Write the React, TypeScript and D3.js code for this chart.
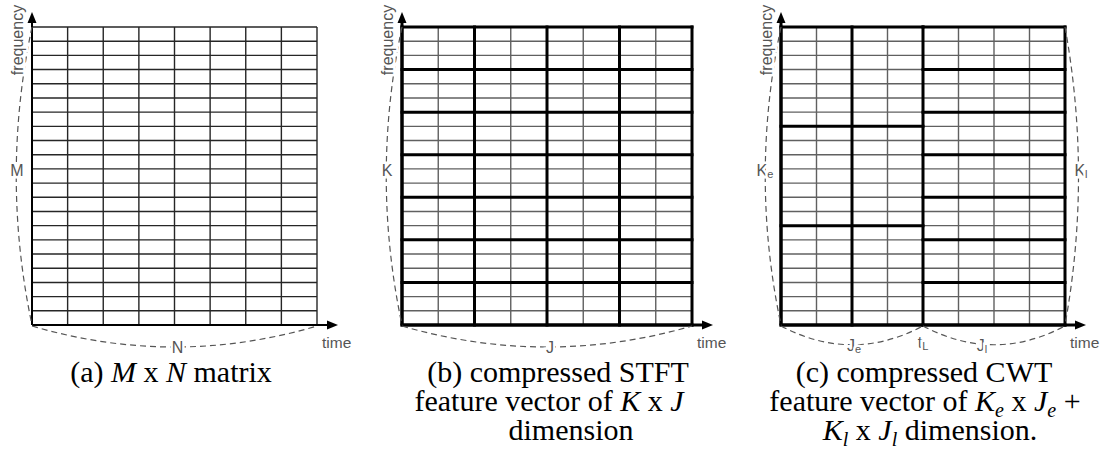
import React from "react";
import * as d3 from "d3";

// grid shape shared by the three panels
const rowCount = 21;
const colCount = 8;

// (b) STFT compression: thick line every n rows / cols
const stftRowStep = 3;
const stftColStep = 2;

// (c) CWT compression: early part (before tL) and late part
const cwtSplitCol = 4;
const cwtEarlyRowBreaks = [0, 7, 14, 21];
const cwtEarlyColBreaks = [0, 2, 4];
const cwtLateRowStep = 3;

// text
const yAxisName = "frequency";
const xAxisName = "time";
const sideLabels = ["M", "K", "K"];
const bottomLabels = ["N", "J"];
const captionA = ["(a) ", "M", " x ", "N", "  matrix"];

// layout
const W = 1102;
const H = 458;
const gridTop = 27;
const gridBottom = 325;
const panelX: [number, number][] = [
  [32, 317],
  [402, 692],
  [781, 1065],
];

const labelFont = "'Liberation Sans', Arial, sans-serif";
const capFont = "'Liberation Serif', 'Times New Roman', serif";
const labelColor = "#555";

type Seg = { x1: number; y1: number; x2: number; y2: number; thick: boolean };

const vBrace = (x: number, y0: number, y1: number, dx: number) => {
  const p = d3.path();
  const h = y1 - y0;
  p.moveTo(x, y0);
  p.bezierCurveTo(x + dx, y0 + h / 3, x + dx, y0 + (2 * h) / 3, x, y1);
  return p.toString();
};

const hBrace = (x0: number, x1: number, y: number, dy: number) => {
  const p = d3.path();
  const w = x1 - x0;
  p.moveTo(x0, y);
  p.bezierCurveTo(x0 + w / 3, y + dy, x0 + (2 * w) / 3, y + dy, x1, y);
  return p.toString();
};

const buildSegments = (panel: number): Seg[] => {
  const [l, r] = panelX[panel];
  const x = d3.scaleLinear().domain([0, colCount]).range([l, r]);
  const y = d3.scaleLinear().domain([0, rowCount]).range([gridTop, gridBottom]);
  const segs: Seg[] = [];
  const rows = d3.range(rowCount + 1);
  const cols = d3.range(colCount + 1);
  if (panel === 0) {
    rows.forEach((i) => segs.push({ x1: x(0), x2: x(colCount), y1: y(i), y2: y(i), thick: false }));
    cols.forEach((j) => segs.push({ x1: x(j), x2: x(j), y1: y(0), y2: y(rowCount), thick: false }));
  } else if (panel === 1) {
    rows.forEach((i) =>
      segs.push({ x1: x(0), x2: x(colCount), y1: y(i), y2: y(i), thick: i % stftRowStep === 0 })
    );
    cols.forEach((j) =>
      segs.push({ x1: x(j), x2: x(j), y1: y(0), y2: y(rowCount), thick: j % stftColStep === 0 })
    );
  } else {
    rows.forEach((i) => {
      segs.push({ x1: x(0), x2: x(cwtSplitCol), y1: y(i), y2: y(i), thick: cwtEarlyRowBreaks.includes(i) });
      segs.push({ x1: x(cwtSplitCol), x2: x(colCount), y1: y(i), y2: y(i), thick: i % cwtLateRowStep === 0 });
    });
    cols.forEach((j) =>
      segs.push({
        x1: x(j),
        x2: x(j),
        y1: y(0),
        y2: y(rowCount),
        thick: cwtEarlyColBreaks.includes(j) || j === colCount,
      })
    );
  }
  return segs;
};

const halo = { stroke: "#fff", strokeWidth: 5, paintOrder: "stroke" as const };

const Label = ({ x, y, main, sub }: { x: number; y: number; main: string; sub?: string }) => (
  <text x={x} y={y} textAnchor="middle" dominantBaseline="central" fontFamily={labelFont} fontSize={16} fill={labelColor} style={halo}>
    {main}
    {sub && (
      <tspan fontSize={11} dy={4}>
        {sub}
      </tspan>
    )}
  </text>
);

const Panel = ({ index }: { index: number }) => {
  const [l, r] = panelX[index];
  const segs = buildSegments(index);
  const thinColor = index === 0 ? "#262626" : "#606060";
  const thinWidth = index === 0 ? 1.4 : 1.4;
  const axisW = index === 0 ? 2 : 3;
  return (
    <g>
      {/* grid */}
      {segs
        .filter((s) => !s.thick)
        .map((s, i) => (
          <line key={"t" + i} x1={s.x1} y1={s.y1} x2={s.x2} y2={s.y2} stroke={thinColor} strokeWidth={thinWidth} />
        ))}
      {segs
        .filter((s) => s.thick)
        .map((s, i) => (
          <line key={"k" + i} x1={s.x1} y1={s.y1} x2={s.x2} y2={s.y2} stroke="#000" strokeWidth={3} strokeLinecap="square" />
        ))}
      {/* axes */}
      <line x1={l} y1={gridBottom} x2={l} y2={20} stroke="#000" strokeWidth={axisW} />
      <line x1={l} y1={gridBottom} x2={r + 12} y2={gridBottom} stroke="#000" strokeWidth={axisW} />
      <line x1={l} y1={gridBottom} x2={l} y2={20} stroke="#000" strokeWidth={2} />
      <path d={`M${l},12 L${l - 4.5},23 L${l + 4.5},23 Z`} fill="#000" />
      <path d={`M${r + 21},${gridBottom} L${r + 10},${gridBottom - 4.5} L${r + 10},${gridBottom + 4.5} Z`} fill="#000" />
      {/* dashed braces */}
      <g fill="none" stroke={labelColor} strokeWidth={1.2} strokeDasharray="6 4">
        <path d={vBrace(l, gridTop, gridBottom, -21)} />
        {index < 2 && <path d={hBrace(l, r, gridBottom + 1, 28)} />}
        {index === 2 && (
          <>
            <path d={hBrace(l, 923, gridBottom + 1, 25)} />
            <path d={hBrace(923, r, gridBottom + 1, 25)} />
            <path d={vBrace(r, gridTop, gridBottom, 18)} />
          </>
        )}
      </g>
      {/* axis names */}
      <text
        transform={`translate(${l - 15},40) rotate(-90)`}
        textAnchor="middle"
        dominantBaseline="central"
        fontFamily={labelFont}
        fontSize={16}
        fill={labelColor}
        style={halo}
      >
        {yAxisName}
      </text>
      <text x={r + 5} y={342} dominantBaseline="central" fontFamily={labelFont} fontSize={15.5} fill={labelColor}>
        {xAxisName}
      </text>
      {index < 2 && <Label x={l - 15} y={170} main={sideLabels[index]} />}
      {index < 2 && <Label x={(l + r) / 2 + 3} y={347} main={bottomLabels[index]} />}
      {index === 2 && (
        <>
          <Label x={l - 16} y={170} main={sideLabels[2]} sub="e" />
          <Label x={r + 16} y={170} main={sideLabels[2]} sub="l" />
          <Label x={854} y={345} main="J" sub="e" />
          <Label x={923} y={342} main="t" sub="L" />
          <Label x={982} y={345} main="J" sub="l" />
        </>
      )}
    </g>
  );
};

export default function App() {
  return (
    <svg width={W} height={H} style={{ position: "absolute", left: 0, top: 0, background: "#fff" }}>
      <rect width={W} height={H} fill="#fff" />
      {[0, 1, 2].map((i) => (
        <Panel key={i} index={i} />
      ))}
      <g fontFamily={capFont} fontSize={30} fill="#000" textAnchor="middle" style={{ whiteSpace: "pre" }}>
        <text x={171} y={382}>
          {captionA[0]}
          <tspan fontStyle="italic">{captionA[1]}</tspan>
          {captionA[2]}
          <tspan fontStyle="italic">{captionA[3]}</tspan>
          {captionA[4]}
        </text>
        <text x={558} y={382}>(b) compressed STFT</text>
        <text x={549} y={411}>
          feature vector of <tspan fontStyle="italic">K</tspan> x <tspan fontStyle="italic">J</tspan>
        </text>
        <text x={571} y={440}>dimension</text>
        <text x={924} y={382}>(c) compressed CWT</text>
        <text x={925} y={411}>
          feature vector of <tspan fontStyle="italic">K</tspan>
          <tspan fontStyle="italic" fontSize={20} dy={6}>e</tspan>
          <tspan dy={-6}> x </tspan>
          <tspan fontStyle="italic">J</tspan>
          <tspan fontStyle="italic" fontSize={20} dy={6}>e</tspan>
          <tspan dy={-6}> +</tspan>
        </text>
        <text x={930} y={440}>
          <tspan fontStyle="italic">K</tspan>
          <tspan fontStyle="italic" fontSize={20} dy={6}>l</tspan>
          <tspan dy={-6}> x </tspan>
          <tspan fontStyle="italic">J</tspan>
          <tspan fontStyle="italic" fontSize={20} dy={6}>l</tspan>
          <tspan dy={-6}> dimension.</tspan>
        </text>
      </g>
    </svg>
  );
}
